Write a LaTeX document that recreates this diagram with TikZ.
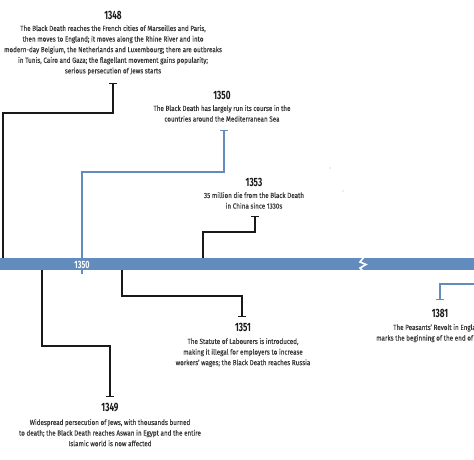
\documentclass[tikz,border=0pt]{standalone}
\usepackage{fontspec}
\setmainfont[FakeStretch=0.85,FakeBold=0.25]{Fira Sans}
\newfontfamily\yearfont[FakeStretch=0.68]{Fira Sans}
\usetikzlibrary{arrows.meta}
\definecolor{barblue}{RGB}{98,140,190}
\definecolor{txt}{RGB}{55,55,55}
\tikzset{
  yearlbl/.style={font=\yearfont\fontsize{12}{13}\selectfont\bfseries, text=black!90, inner sep=0pt, anchor=center},
  desc/.style={font=\fontsize{7.4}{10.6}\selectfont, text=txt, align=center, inner sep=0pt, anchor=north},
  blk/.style={draw=black!90, line width=1.4pt},
  blu/.style={draw=barblue, line width=1.3pt},
  capk/.style={-{Bar[width=7.5pt,line width=1.4pt]}},
}
\begin{document}
\begin{tikzpicture}[x=1pt,y=-1pt]
\useasboundingbox (0,0) rectangle (474,459);
\clip (0,0) rectangle (474,459);
% coordinates for connector corners and caps
\coordinate (s1348) at (3,258);
\coordinate (k1348) at (3,113);
\coordinate (c1348) at (113,83);
\coordinate (s1350) at (82,274);
\coordinate (k1350) at (82,172);
\coordinate (c1350) at (224,130);
\coordinate (s1353) at (203,258);
\coordinate (k1353) at (203,232);
\coordinate (c1353) at (255,216);
\coordinate (s1349) at (42,270);
\coordinate (k1349) at (42,346);
\coordinate (c1349) at (110,397);
\coordinate (s1351) at (122,270);
\coordinate (k1351) at (122,296);
\coordinate (c1351) at (242,317);
\coordinate (s1381) at (480,284);
\coordinate (c1381) at (440,300);
% blue connector behind bar
\draw[blu, capk] (s1350) -- (k1350) -| (c1350);
% timeline bar
\fill[barblue] (0,258) rectangle (474,270);
\node[font=\yearfont\fontsize{10.5}{11}\selectfont\bfseries, text=white, inner sep=0pt] (bar1350) at (82,264.5) {1350};
\draw[white, line width=1.6pt, line join=miter] (364,257) -- (360,262) -- (366,264.5) -- (360,268) -- (363,271);
% connectors
\draw[blk, capk] (s1348) -- (k1348) -| (c1348);
\draw[blk, capk] (s1353) -- (k1353) -| (c1353);
\draw[blk, capk] (s1349) -- (k1349) -| (c1349);
\draw[blk, capk] (s1351) -- (k1351) -| (c1351);
\draw[blu, capk] (s1381) -| (c1381);
% texts
\node[yearlbl] (y1348) at (113,15) {1348};
\node[desc] (d1348) at (113,25) {The Black Death reaches the French cities of Marseilles and Paris,\\then moves to England; it moves along the Rhine River and into\\modern-day Belgium, the Netherlands and Luxembourg; there are outbreaks\\in Tunis, Cairo and Gaza; the flagellant movement gains popularity;\\serious persecution of Jews starts};
\node[yearlbl] (y1350) at (222,95) {1350};
\node[desc] (d1350) at (222,105) {The Black Death has largely run its course in the\\countries around the Mediterranean Sea};
\node[yearlbl] (y1353) at (254,182) {1353};
\node[desc] (d1353) at (254,192) {35 million die from the Black Death\\in China since 1330s};
\node[yearlbl] (y1351) at (243,327) {1351};
\node[desc] (d1351) at (243,338) {The Statute of Labourers is introduced,\\making it illegal for employers to increase\\workers' wages; the Black Death reaches Russia};
\node[yearlbl] (y1349) at (110,408) {1349};
\node[desc] (d1349) at (110,419) {Widespread persecution of Jews, with thousands burned\\to death; the Black Death reaches Aswan in Egypt and the entire\\Islamic world is now affected};
\node[yearlbl] (y1381) at (440,313) {1381};
\node[desc, anchor=north west] (d1381a) at (393,324) {The Peasants' Revolt in England};
\node[desc, anchor=north west] (d1381b) at (376,334.6) {marks the beginning of the end of};
% faint specks
\fill[black!30] (330,168) circle (0.7);
\fill[black!30] (343,191) circle (0.7);
\end{tikzpicture}
\end{document}
